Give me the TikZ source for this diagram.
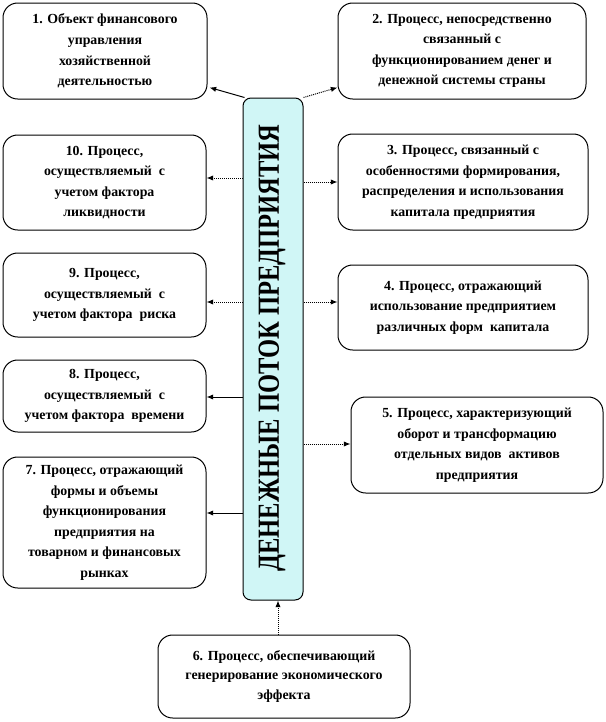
\documentclass[tikz,border=0pt]{standalone}
\usepackage{fontspec}
\setmainfont{Liberation Serif}
\usepackage{graphicx}
\usetikzlibrary{arrows.meta,calc}
\definecolor{cyanfill}{HTML}{D0F6F6}
\tikzset{
  procbox/.style={draw=black, line width=0.75pt, rounded corners=11pt, fill=white,
    align=center, font=\bfseries\fontsize{10.4}{15.4}\selectfont, inner sep=1pt},
  centralbox/.style={draw=black, line width=0.75pt, rounded corners=6pt, fill=cyanfill,
    minimum width=45pt, minimum height=376.5pt, inner sep=0pt},
  solidarr/.style={line width=0.75pt, -{Latex[length=5pt,width=4pt]}},
  dotarr/.style={line width=0.75pt, dash pattern=on 0.75pt off 0.75pt, -{Latex[length=5pt,width=4pt]}}
}
\begin{document}
\begin{tikzpicture}[x=0.75pt,y=-0.75pt]
\useasboundingbox (0,0) rectangle (606,722);
% central
\node[centralbox] (c) at (273,349) {};
\node[rotate=90, font=\bfseries\fontsize{23}{23}\selectfont] (ct) at (272,348) {\scalebox{0.8}[1]{ДЕНЕЖНЫЕ ПОТОК ПРЕДПРИЯТИЯ}};
% left boxes
\node[procbox, minimum width=153pt, minimum height=72pt] (b1) at (105,51)
  {1. Объект финансового\\управления\\хозяйственной\\деятельностью};
\node[procbox, minimum width=152.25pt, minimum height=71.25pt] (b10) at (104.5,182.5)
  {10. Процесс,\\осуществляемый\ \ с\\учетом фактора\\ликвидности};
\node[procbox, minimum width=152.25pt, minimum height=63pt] (b9) at (104.5,295)
  {9. Процесс,\\осуществляемый\ \ с\\учетом фактора\ \ риска};
\node[procbox, minimum width=152.25pt, minimum height=54pt] (b8) at (104.5,396)
  {8. Процесс,\\осуществляемый\ \ с\\учетом фактора\ \ времени};
\node[procbox, minimum width=152.25pt, minimum height=98.25pt] (b7) at (104.5,522.5)
  {7. Процесс, отражающий\\формы и объемы\\функционирования\\предприятия на\\товарном и финансовых\\рынках};
% right boxes
\node[procbox, minimum width=186pt, minimum height=72pt] (b2) at (462,51)
  {2. Процесс, непосредственно\\связанный с\\функционированием денег и\\денежной системы страны};
\node[procbox, minimum width=187.5pt, minimum height=72pt] (b3) at (463,182)
  {3. Процесс, связанный с\\особенностями формирования,\\распределения и использования\\капитала предприятия};
\node[procbox, minimum width=187.5pt, minimum height=63.75pt] (b4) at (463,307.5)
  {4. Процесс, отражающий\\использование предприятием\\различных форм\ \ капитала};
\node[procbox, minimum width=189pt, minimum height=72pt] (b5) at (477,445)
  {5. Процесс, характеризующий\\оборот и трансформацию\\отдельных видов\ \ активов\\предприятия};
% bottom box
\node[procbox, minimum width=189pt, minimum height=62.25pt, font=\bfseries\fontsize{10.4}{14.3}\selectfont] (b6) at (284,676.5)
  {6. Процесс, обеспечивающий\\генерирование экономического\\эффекта};
% connectors
\coordinate (e1) at ($(b1.south east)+(2,-12)$);
\coordinate (e2) at ($(b2.south west)+(0,-12)$);
\draw[solidarr] ($(c.north west)+(2,0)$) -- (e1);
\draw[dotarr] (c.north east) -- (e2);
\draw[dotarr] (c.west |- 0,178) -- (b10.east |- 0,178);
\draw[dotarr] (c.east |- 0,182) -- (b3.west |- 0,182);
\draw[dotarr] (c.west |- 0,302) -- (b9.east |- 0,302);
\draw[dotarr] (c.east |- 0,302) -- (b4.west |- 0,302);
\draw[solidarr] (c.west |- 0,397) -- (b8.east |- 0,397);
\draw[dotarr] (c.east |- 0,444) -- (b5.west |- 0,444);
\draw[solidarr] (c.west |- 0,513) -- (b7.east |- 0,513);
\draw[dotarr] (b6.north -| 278,0) -- (c.south -| 278,0);
\end{tikzpicture}
\end{document}
